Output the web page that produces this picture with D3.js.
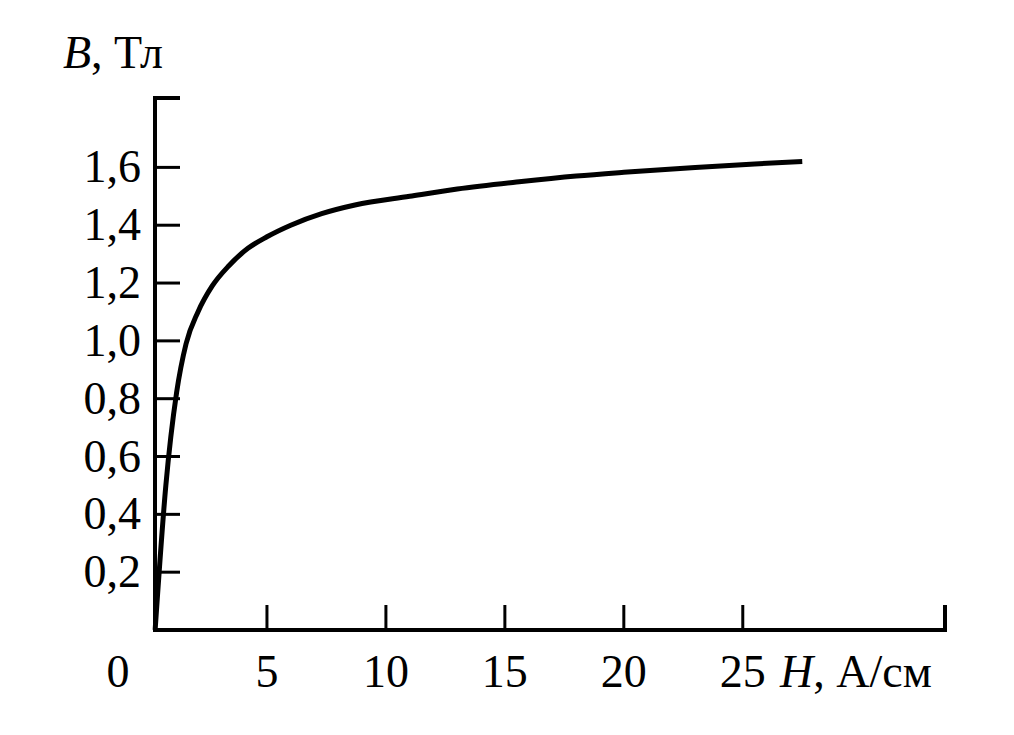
<!DOCTYPE html>
<html><head><meta charset="utf-8">
<script src="https://cdn.jsdelivr.net/npm/d3@7"></script>
<style>body{margin:0;background:#fff}svg{font-family:"Liberation Serif","DejaVu Serif",serif}</style>
</head><body><svg id="c" width="1014" height="735"></svg>
<script>
const curveH = [0.3, 0.75, 1.2, 1.6, 2.1, 2.7, 3.4, 4.2, 5.0, 6.0, 7.3, 8.7, 11, 13, 15.6, 18, 20, 23, 25.5, 27.5];
const curveB = [0, 0.5, 0.82, 0.99, 1.1, 1.19, 1.26, 1.32, 1.36, 1.4, 1.44, 1.47, 1.5, 1.525, 1.55, 1.57, 1.583, 1.6, 1.612, 1.62];
const xTicks = [5, 10, 15, 20, 25];
const yTicks = [0.2, 0.4, 0.6, 0.8, 1.0, 1.2, 1.4, 1.6];

const svg = d3.select("#c");
const x = d3.scaleLinear().domain([0, 33.5]).range([148, 945]);
const y = d3.scaleLinear().domain([0, 1.84]).range([630, 98]);
const x0 = 155;
const fs = 46;

// axes
svg.append("path")
  .attr("d", `M${x0 + 25},${y(1.84)}H${x0}V${y(0)}H${x(33.5)}V${y(0) - 25}`)
  .attr("fill", "none").attr("stroke", "#000").attr("stroke-width", 4);

svg.selectAll(".yt").data(yTicks).join("line")
  .attr("x1", x0).attr("x2", x0 + 25)
  .attr("y1", d => y(d)).attr("y2", d => y(d))
  .attr("stroke", "#000").attr("stroke-width", 3);

svg.selectAll(".xt").data(xTicks).join("line")
  .attr("x1", d => x(d)).attr("x2", d => x(d))
  .attr("y1", y(0)).attr("y2", y(0) - 25)
  .attr("stroke", "#000").attr("stroke-width", 3);

svg.selectAll(".yl").data(yTicks).join("text")
  .attr("x", 141).attr("y", d => y(d) + 15)
  .attr("text-anchor", "end").attr("font-size", fs)
  .text(d => d3.format(".1f")(d).replace(".", ","));

svg.selectAll(".xl").data(xTicks).join("text")
  .attr("x", d => x(d)).attr("y", 687)
  .attr("text-anchor", "middle").attr("font-size", fs)
  .text(d => d);

svg.append("text").attr("x", 118).attr("y", 687).attr("text-anchor", "middle")
  .attr("font-size", fs).text("0");

const hl = svg.append("text").attr("x", 780).attr("y", 687).attr("font-size", fs);
hl.append("tspan").attr("font-style", "italic").text("H");
hl.append("tspan").text(", А/см");

const bl = svg.append("text").attr("x", 63).attr("y", 68).attr("font-size", fs);
bl.append("tspan").attr("font-style", "italic").text("B");
bl.append("tspan").text(", Тл");

const line = d3.line().x(d => x(d[0])).y(d => y(d[1])).curve(d3.curveMonotoneX);
svg.append("path").datum(d3.zip(curveH, curveB))
  .attr("d", line).attr("fill", "none").attr("stroke", "#000").attr("stroke-width", 5);
</script></body></html>
